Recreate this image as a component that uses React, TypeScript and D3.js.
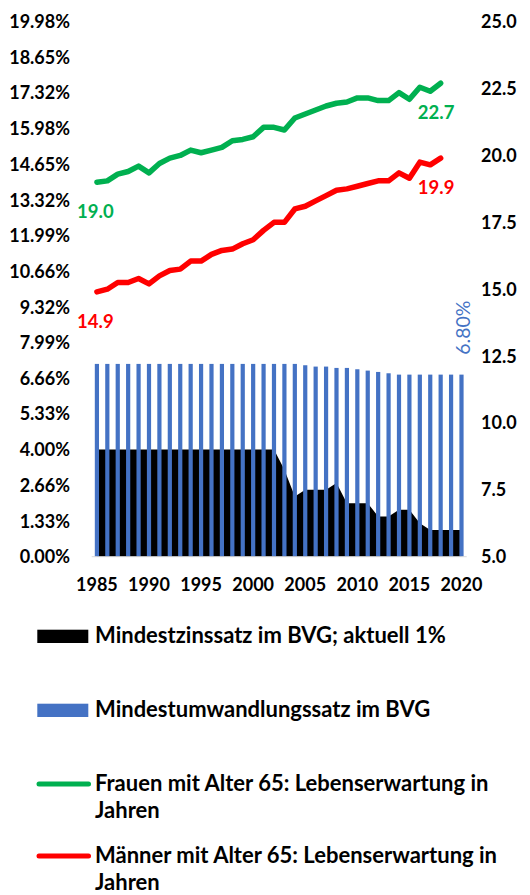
import React from 'react';
import * as d3 from 'd3';

// categories
const years = [
  1985, 1986, 1987, 1988, 1989, 1990, 1991, 1992, 1993, 1994, 1995, 1996,
  1997, 1998, 1999, 2000, 2001, 2002, 2003, 2004, 2005, 2006, 2007, 2008,
  2009, 2010, 2011, 2012, 2013, 2014, 2015, 2016, 2017, 2018, 2019, 2020,
];
const xTickYears = [1985, 1990, 1995, 2000, 2005, 2010, 2015, 2020];

// Mindestzinssatz BVG (%), area
const mindestzins = [
  4, 4, 4, 4, 4, 4, 4, 4, 4, 4, 4, 4, 4, 4, 4, 4, 4, 4,
  3.25, 2.25, 2.5, 2.5, 2.5, 2.75, 2, 2, 2, 1.5, 1.5, 1.75, 1.75, 1.25,
  1, 1, 1, 1,
];

// Mindestumwandlungssatz BVG (%), bars
const umwandlung = [
  7.2, 7.2, 7.2, 7.2, 7.2, 7.2, 7.2, 7.2, 7.2, 7.2, 7.2, 7.2, 7.2, 7.2, 7.2,
  7.2, 7.2, 7.2, 7.2, 7.2, 7.15, 7.1, 7.1, 7.05, 7.05, 7.0, 6.95, 6.9, 6.85,
  6.8, 6.8, 6.8, 6.8, 6.8, 6.8, 6.8,
];

// life expectancy at 65, 1985-2018 (right axis)
const lineYears = years.slice(0, 34);
const frauen = [
  19.0, 19.05, 19.3, 19.4, 19.6, 19.35, 19.7, 19.9, 20.0, 20.2, 20.1, 20.2,
  20.3, 20.55, 20.6, 20.7, 21.05, 21.05, 20.95, 21.4, 21.55, 21.7, 21.85,
  21.95, 22.0, 22.15, 22.15, 22.05, 22.05, 22.35, 22.1, 22.55, 22.4, 22.7,
];
const maenner = [
  14.9, 15.0, 15.25, 15.25, 15.4, 15.2, 15.5, 15.7, 15.75, 16.05, 16.05, 16.3,
  16.45, 16.5, 16.7, 16.85, 17.2, 17.5, 17.5, 18.0, 18.1, 18.3, 18.5, 18.7,
  18.75, 18.85, 18.95, 19.05, 19.05, 19.35, 19.15, 19.75, 19.65, 19.9,
];

const leftTicks = [
  0, 1.33, 2.66, 4.0, 5.33, 6.66, 7.99, 9.32, 10.66, 11.99, 13.32, 14.65,
  15.98, 17.32, 18.65, 19.98,
];
const rightTicks = [5, 7.5, 10, 12.5, 15, 17.5, 20, 22.5, 25];

const legendItems = [
  { label: ['Mindestzinssatz im BVG; aktuell 1%'], color: '#000000', kind: 'rect' },
  { label: ['Mindestumwandlungssatz im BVG'], color: '#4472C4', kind: 'rect' },
  { label: ['Frauen mit Alter 65: Lebenserwartung in', 'Jahren'], color: '#00B050', kind: 'line' },
  { label: ['Männer mit Alter 65: Lebenserwartung in', 'Jahren'], color: '#FF0000', kind: 'line' },
];

const W = 530, H = 895;
const font = "Lato, 'Open Sans', sans-serif";

export default function App() {
  const x = d3.scaleBand<number>().domain(years).range([91.7, 466.7]).padding(0);
  const xc = (yr: number) => (x(yr) as number) + x.bandwidth() / 2;
  const yL = d3.scaleLinear().domain([0, 19.98]).range([556.7, 21.7]);
  const yR = d3.scaleLinear().domain([5, 25]).range([556.7, 21.7]);

  const area = d3.area<number>()
    .x((_, i) => xc(years[i]))
    .y0(yL(0))
    .y1(d => yL(d));

  const line = d3.line<number>()
    .x((_, i) => xc(lineYears[i]))
    .y(d => yR(d));

  const barW = 4.2;
  const last = lineYears.length - 1;
  const lblOff = 36;

  const legendY = [643, 717, 791, 863];

  return (
    <svg width={W} height={H} style={{ position: 'absolute', left: 0, top: 0, background: '#fff' }}
      fontFamily={font}>
      <rect width={W} height={H} fill="#fff" />

      {/* area */}
      <path d={area(mindestzins) || ''} fill="#000" />

      {/* bars */}
      {umwandlung.map((v, i) => (
        <rect key={years[i]} x={xc(years[i]) - barW / 2} y={yL(v)} width={barW}
          height={yL(0) - yL(v)} fill="#4472C4" />
      ))}

      <line x1={91.7} x2={466.7} y1={yL(0)} y2={yL(0)} stroke="#d9d9d9" strokeWidth={1} />

      {/* lines */}
      <path d={line(frauen) || ''} fill="none" stroke="#00B050" strokeWidth={5.5}
        strokeLinejoin="round" strokeLinecap="round" />
      <path d={line(maenner) || ''} fill="none" stroke="#FF0000" strokeWidth={5.5}
        strokeLinejoin="round" strokeLinecap="round" />

      {/* data labels */}
      <g fontSize={18.5} fontWeight="bold" textAnchor="middle">
        <text x={xc(lineYears[0]) - 1.5} y={yR(frauen[0]) + lblOff} fill="#00B050">{frauen[0].toFixed(1)}</text>
        <text x={xc(lineYears[0]) - 1.5} y={yR(maenner[0]) + lblOff} fill="#FF0000">{maenner[0].toFixed(1)}</text>
        <text x={xc(lineYears[last]) - 4.5} y={yR(frauen[last]) + lblOff} fill="#00B050">{frauen[last].toFixed(1)}</text>
        <text x={xc(lineYears[last]) - 4.5} y={yR(maenner[last]) + lblOff} fill="#FF0000">{maenner[last].toFixed(1)}</text>
      </g>
      <text transform={`translate(${xc(years[years.length - 1]) + 9},${yL(umwandlung[umwandlung.length - 1]) - 47}) rotate(-90)`}
        fontSize={19.5} fill="#4472C4" textAnchor="middle">
        {umwandlung[umwandlung.length - 1].toFixed(2)}%
      </text>

      {/* left axis */}
      <g fontSize={18} fontWeight="bold" fill="#000" textAnchor="end">
        {leftTicks.map(t => (
          <text key={t} x={70} y={yL(t) + 6.5}>{t.toFixed(2)}%</text>
        ))}
      </g>

      {/* right axis */}
      <g fontSize={18} fontWeight="bold" fill="#000" textAnchor="start">
        {rightTicks.map(t => (
          <text key={t} x={481} y={yR(t) + 6.5}>{t.toFixed(1)}</text>
        ))}
      </g>

      {/* x axis */}
      <g fontSize={18} fontWeight="bold" fill="#000" textAnchor="middle">
        {xTickYears.map(t => (
          <text key={t} x={xc(t)} y={590.5}>{t}</text>
        ))}
      </g>

      {/* legend */}
      <g fontSize={22} fontWeight="bold" fill="#000">
        {legendItems.map((it, i) => (
          <g key={i}>
            {it.kind === 'rect'
              ? <rect x={37.3} y={legendY[i] - 13.3} width={51} height={13.3} fill={it.color} />
              : <line x1={39} x2={88.5} y1={legendY[i] - 7} y2={legendY[i] - 7} stroke={it.color}
                  strokeWidth={5} strokeLinecap="round" />}
            {it.label.map((l, j) => (
              <text key={j} x={95} y={legendY[i] + j * 27}>{l}</text>
            ))}
          </g>
        ))}
      </g>
    </svg>
  );
}
